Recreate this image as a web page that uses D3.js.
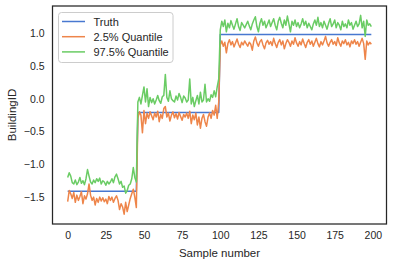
<!DOCTYPE html>
<html>
<head>
<meta charset="utf-8">
<script src="https://cdn.jsdelivr.net/npm/d3@7"></script>
<style>
  body { margin: 0; background: #fff; }
  text { font-family: "Liberation Sans", Arial, sans-serif; fill: #262626; }
</style>
</head>
<body>
<div id="chart"></div>
<script>
// values
var truth = [
  -1.41,-1.41,-1.41,-1.41,-1.41,-1.41,-1.41,-1.41,-1.41,-1.41,-1.41,-1.41,-1.41,-1.41,-1.41,-1.41,-1.41,-1.41,-1.41,-1.41,
  -1.41,-1.41,-1.41,-1.41,-1.41,-1.41,-1.41,-1.41,-1.41,-1.41,-1.41,-1.41,-1.41,-1.41,-1.41,-1.41,-1.41,-1.41,-1.41,-1.41,
  -1.41,-1.41,-1.41,-1.41,-1.41,-1.41,
  -0.21,-0.21,-0.21,-0.21,-0.21,-0.21,-0.21,-0.21,-0.21,-0.21,-0.21,-0.21,-0.21,-0.21,-0.21,-0.21,-0.21,-0.21,-0.21,-0.21,
  -0.21,-0.21,-0.21,-0.21,-0.21,-0.21,-0.21,-0.21,-0.21,-0.21,-0.21,-0.21,-0.21,-0.21,-0.21,-0.21,-0.21,-0.21,-0.21,-0.21,
  -0.21,-0.21,-0.21,-0.21,-0.21,-0.21,-0.21,-0.21,-0.21,-0.21,-0.21,-0.21,-0.21,-0.21,
  0.98,0.98,0.98,0.98,0.98,0.98,0.98,0.98,0.98,0.98,0.98,0.98,0.98,0.98,0.98,0.98,0.98,0.98,0.98,0.98,
  0.98,0.98,0.98,0.98,0.98,0.98,0.98,0.98,0.98,0.98,0.98,0.98,0.98,0.98,0.98,0.98,0.98,0.98,0.98,0.98,
  0.98,0.98,0.98,0.98,0.98,0.98,0.98,0.98,0.98,0.98,0.98,0.98,0.98,0.98,0.98,0.98,0.98,0.98,0.98,0.98,
  0.98,0.98,0.98,0.98,0.98,0.98,0.98,0.98,0.98,0.98,0.98,0.98,0.98,0.98,0.98,0.98,0.98,0.98,0.98,0.98,
  0.98,0.98,0.98,0.98,0.98,0.98,0.98,0.98,0.98,0.98,0.98,0.98,0.98,0.98,0.98,0.98,0.98,0.98,0.98,0.98
];

var q025 = [
  -1.57,-1.40,-1.45,-1.52,-1.43,-1.58,-1.47,-1.55,-1.49,-1.42,-1.60,-1.48,-1.53,-1.45,-1.30,-1.47,-1.55,-1.50,-1.62,-1.52,
  -1.58,-1.50,-1.56,-1.51,-1.57,-1.53,-1.60,-1.49,-1.55,-1.50,-1.58,-1.52,-1.48,-1.55,-1.69,-1.60,-1.65,-1.76,-1.58,-1.72,
  -1.62,-1.52,-1.45,-1.38,-1.50,-1.66,
  -0.30,-0.20,-0.25,-0.52,-0.18,-0.38,-0.22,-0.30,-0.20,-0.26,-0.32,-0.22,-0.28,-0.19,-0.35,-0.24,-0.30,-0.15,-0.12,-0.28,
  -0.22,-0.34,-0.25,-0.20,-0.29,-0.23,-0.31,-0.21,-0.27,-0.33,-0.24,-0.28,-0.22,-0.30,-0.19,-0.38,-0.25,-0.32,-0.22,-0.40,
  -0.28,-0.45,-0.30,-0.24,-0.35,-0.42,-0.28,-0.22,-0.30,-0.18,-0.25,-0.10,-0.30,-0.05,
  0.82,0.88,0.80,0.86,0.70,0.84,0.90,0.82,0.87,0.79,0.85,0.91,0.83,0.78,0.86,0.82,0.88,0.84,0.80,0.86,
  0.83,0.74,0.88,0.94,0.85,0.80,0.87,0.90,0.82,0.76,0.85,0.89,0.83,0.87,0.81,0.92,0.84,0.78,0.86,0.90,
  0.82,0.88,0.76,0.84,0.90,0.86,0.80,0.88,0.83,0.93,0.85,0.80,0.87,0.82,0.91,0.84,0.78,0.86,0.90,0.83,
  0.88,0.80,0.86,0.92,0.84,0.79,0.87,0.82,0.88,0.95,0.85,0.80,0.86,0.90,0.83,0.87,0.81,0.93,0.85,0.80,
  0.88,0.84,0.90,0.82,0.86,0.79,0.88,0.84,0.90,0.83,0.87,0.80,0.86,0.92,0.84,0.60,0.88,0.82,0.86,0.83
];

var q975 = [
  -1.20,-1.13,-1.18,-1.28,-1.30,-1.24,-1.31,-1.27,-1.20,-1.29,-1.25,-1.31,-1.22,-1.08,-1.18,-1.27,-1.30,-1.24,-1.28,-1.22,
  -1.26,-1.21,-1.30,-1.25,-1.27,-1.32,-1.26,-1.30,-1.27,-1.22,-1.28,-1.19,-1.15,-1.22,-1.30,-1.26,-1.35,-1.33,-1.44,-1.40,
  -1.32,-1.30,-1.22,-1.05,-1.20,-1.27,
  -0.05,0.02,-0.08,0.05,0.18,-0.05,0.15,-0.12,0.02,-0.06,0.00,-0.08,-0.02,0.05,-0.03,-0.07,0.03,0.05,0.37,0.02,
  -0.04,0.12,0.00,-0.03,-0.05,0.04,-0.02,0.08,0.02,-0.06,0.04,0.01,-0.05,-0.02,0.30,-0.08,0.02,-0.12,-0.03,0.05,
  -0.08,0.10,-0.05,-0.02,0.22,-0.05,0.00,-0.04,0.06,0.02,0.12,0.03,0.18,0.30,
  1.05,1.18,1.10,1.20,1.02,1.15,1.08,1.19,1.12,1.06,1.14,1.22,1.10,1.04,1.16,1.12,1.08,1.13,1.18,1.11,
  1.05,1.14,1.20,1.25,1.10,1.02,1.15,1.22,1.12,1.18,1.08,1.14,1.20,1.10,1.16,1.22,1.12,1.05,1.18,1.24,
  1.15,1.08,1.20,1.12,1.26,1.14,1.02,1.18,1.12,1.20,1.10,1.16,1.08,1.14,1.22,1.12,1.18,1.08,1.15,1.10,
  1.05,1.14,1.20,1.12,1.24,1.10,1.16,1.08,1.18,1.12,1.06,1.15,1.22,1.10,1.14,1.20,1.08,1.16,1.12,1.05,
  1.18,1.10,1.14,1.08,1.20,1.12,1.16,1.06,1.12,1.18,1.10,1.14,1.27,1.08,1.18,0.95,1.20,1.12,1.14,1.10
];

var seriesNames = ["Truth", "2.5% Quantile", "97.5% Quantile"];
var seriesColors = ["#4878d0", "#ee854a", "#6acc64"];
var xTicks = [0, 25, 50, 75, 100, 125, 150, 175, 200];
var yTicks = [-1.5, -1.0, -0.5, 0.0, 0.5, 1.0];

var width = 394, height = 265;
var margin = { top: 6, right: 7.5, bottom: 41, left: 52.5 };

var svg = d3.select("#chart").append("svg")
    .attr("width", width)
    .attr("height", height);

var x = d3.scaleLinear()
    .domain([-9.95, 208.95])
    .range([margin.left, width - margin.right]);

var y = d3.scaleLinear()
    .domain([-1.91, 1.413])
    .range([height - margin.bottom, margin.top]);

var fmt = d3.format(".1f");

// axes without tick marks (seaborn white style)
var xAxis = svg.append("g")
    .attr("transform", "translate(0," + (height - margin.bottom) + ")")
    .call(d3.axisBottom(x).tickValues(xTicks).tickSize(0).tickPadding(8));
xAxis.select(".domain").remove();
xAxis.selectAll("text").style("font-size", "10.5px").style("font-family", "'Liberation Sans', Arial, sans-serif").attr("fill", "#262626");

var yAxis = svg.append("g")
    .attr("transform", "translate(" + margin.left + ",0)")
    .call(d3.axisLeft(y).tickValues(yTicks).tickFormat(fmt).tickSize(0).tickPadding(8));
yAxis.select(".domain").remove();
yAxis.selectAll("text").style("font-size", "10.5px").style("font-family", "'Liberation Sans', Arial, sans-serif").attr("fill", "#262626");

// lines
var line = d3.line()
    .x(function (d, i) { return x(i); })
    .y(function (d) { return y(d); });

var plot = svg.append("g");
[truth, q025, q975].forEach(function (s, k) {
    plot.append("path")
        .datum(s)
        .attr("fill", "none")
        .attr("stroke", seriesColors[k])
        .attr("stroke-width", 1.5)
        .attr("stroke-linejoin", "round")
        .attr("d", line);
});

// frame
svg.append("rect")
    .attr("x", margin.left)
    .attr("y", margin.top)
    .attr("width", width - margin.left - margin.right)
    .attr("height", height - margin.top - margin.bottom)
    .attr("fill", "none")
    .attr("stroke", "#262626")
    .attr("stroke-width", 1.25);

// axis labels
svg.append("text")
    .attr("x", (margin.left + width - margin.right) / 2)
    .attr("y", 257)
    .attr("text-anchor", "middle")
    .style("font-size", "11.5px")
    .text("Sample number");

svg.append("text")
    .attr("transform", "translate(16," + ((margin.top + height - margin.bottom) / 2) + ") rotate(-90)")
    .attr("text-anchor", "middle")
    .style("font-size", "11.5px")
    .text("BuildingID");

// legend
var legend = svg.append("g").attr("transform", "translate(58.5,12.5)");
legend.append("rect")
    .attr("width", 114.5)
    .attr("height", 50)
    .attr("rx", 3)
    .attr("fill", "#fff")
    .attr("fill-opacity", 0.8)
    .attr("stroke", "#cccccc")
    .attr("stroke-width", 1);

var items = legend.selectAll(".item")
    .data(seriesNames)
    .enter().append("g")
    .attr("class", "item")
    .attr("transform", function (d, i) { return "translate(0," + (9 + i * 15.2) + ")"; });
items.append("line")
    .attr("x1", 3.5).attr("x2", 26.5)
    .attr("stroke", function (d, i) { return seriesColors[i]; })
    .attr("stroke-width", 1.5);
items.append("text")
    .attr("x", 35)
    .attr("y", 4)
    .style("font-size", "11px")
    .text(function (d) { return d; });
</script>
</body>
</html>
